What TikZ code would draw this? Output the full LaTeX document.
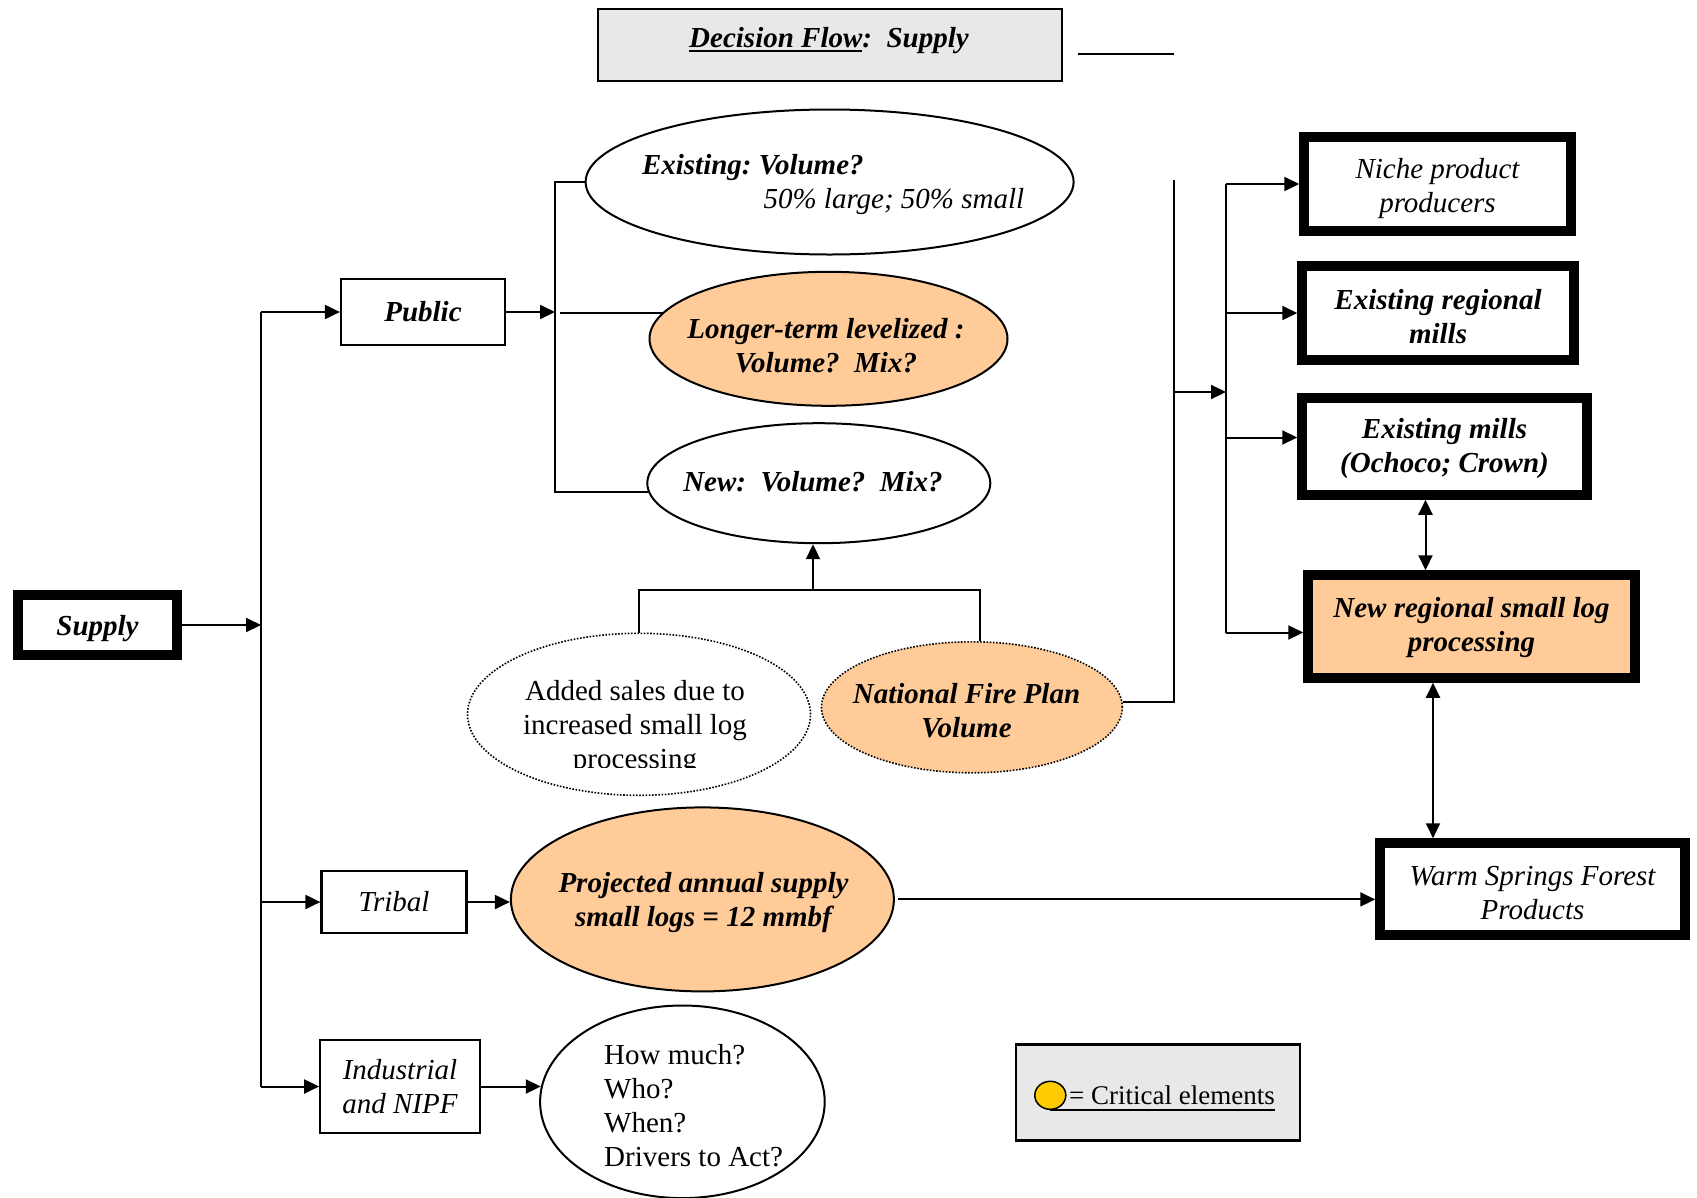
\documentclass[tikz,border=0pt]{standalone}
\usepackage{fontspec}
\setmainfont{Liberation Serif}
\usetikzlibrary{arrows.meta,shapes.geometric,calc}
\definecolor{tanc}{HTML}{FFCC99}
\definecolor{lgray}{HTML}{E8E8E8}
\definecolor{yelc}{HTML}{FFCC00}
\newcommand\myul[1]{\setbox0\hbox{#1}\rlap{\rule[-5pt]{\wd0}{2.5pt}}\box0}
\begin{document}
\frenchspacing
\begin{tikzpicture}[x=1pt,y=-1pt,
  every node/.style={font=\fontsize{29}{34}\selectfont},
  thin box/.style={draw, rectangle, line width=2.2pt, fill=white, inner sep=0pt, align=center},
  heavy box/.style={draw, rectangle, line width=9.5pt, fill=white, inner sep=0pt, align=center},
  oval/.style={draw, ellipse, line width=2pt, inner sep=0pt, fill=white},
  dotoval/.style={draw, ellipse, line width=1.6pt, dash pattern=on 1.6pt off 1.6pt, inner sep=0pt},
  conn/.style={line width=2pt},
  arr/.style={line width=2pt, -{Triangle[length=15pt,width=14pt]}},
  darr/.style={line width=2pt, {Triangle[length=15pt,width=14pt]}-{Triangle[length=15pt,width=14pt]}},
  txtbi/.style={font=\fontsize{29}{34}\selectfont\bfseries\itshape, align=center},
  txtit/.style={font=\fontsize{29}{34}\selectfont\itshape, align=center},
]
\useasboundingbox[fill=white] (0,0) rectangle (1697,1197);

% title
\node[thin box, fill=lgray, minimum width=464pt, minimum height=72pt] (title) at (830,45) {};
\node[txtbi] (titletxt) at (829,40.5) {\myul{Decision Flow}:\ \ Supply};
\coordinate (ln1) at (1078,54);
\coordinate (ln2) at (1174,54);
\draw[conn] (ln1) -- (ln2);

% left boxes
\node[heavy box, minimum width=159pt, minimum height=60pt] (sup) at (97.5,625) {};
\node[txtbi] (suptxt) at ([yshift=-3.3pt]sup.center) {Supply};
\node[thin box, minimum width=164pt, minimum height=66pt] (pub) at (423,312) {};
\node[txtbi] (pubtxt) at (pub.center) {Public};
\node[thin box, minimum width=145pt, minimum height=62pt] (tri) at (394,902) {};
\node[txtit] (tritxt) at (tri.center) {Tribal};
\node[thin box, minimum width=159.5pt, minimum height=93pt] (ind) at (400,1086.5) {};
\node[txtit] (indtxt) at (ind.center) {Industrial\\and NIPF};

% ellipses
\node[oval, minimum width=488pt, minimum height=145pt] (ex) at (829.6,182) {};
\node[txtbi, anchor=west] (ex1) at (638.5,167.8) {Existing: Volume?};
\node[txtit, anchor=west] (ex2) at (760,201.3) {50\% large; 50\% small};

\node[oval, fill=tanc, minimum width=358pt, minimum height=134pt] (lt) at (828.5,338.8) {};
\node[txtbi] (lttxt) at (826,346) {Longer-term levelized :\\Volume?\ \ Mix?};

\node[oval, minimum width=343pt, minimum height=120pt] (nw) at (818.8,483.2) {};
\node[txtbi] (nwtxt) at (813,482) {New:\ \ Volume?\ \ Mix?};

\node[dotoval, minimum width=343pt, minimum height=162pt] (add) at (639,714.3) {};
\begin{scope}
\clip (440,600) rectangle (840,767);
\node[align=center] (addtxt) at (635,727.3) {Added sales due to\\increased small log\\processing};
\end{scope}

\node[dotoval, fill=tanc, minimum width=300.8pt, minimum height=131pt] (nfp) at (971.9,707.3) {};
\node[txtbi] (nfptxt) at (966.5,710.5) {National Fire Plan\\Volume};

\node[oval, fill=tanc, minimum width=383pt, minimum height=184pt] (proj) at (702.4,899.4) {};
\node[txtbi] (projtxt) at (703.5,902.1) {Projected annual supply\\small logs = 12 mmbf};

\node[oval, minimum width=284.6pt, minimum height=192.6pt] (how) at (682.4,1101.8) {};
\node[anchor=west, align=left] (howtxt) at (600.7,1105.6) {How much?\\Who?\\When?\\Drivers to Act?};

% right boxes
\node[heavy box, minimum width=267pt, minimum height=94pt] (niche) at (1437.5,184) {};
\node[txtit] (nichetxt) at ([yshift=-4.3pt]niche.center) {Niche product\\producers};
\node[heavy box, minimum width=272pt, minimum height=94pt] (exr) at (1438,313) {};
\node[txtbi] (exrtxt) at ([yshift=-3.3pt]exr.center) {Existing regional\\mills};
\node[heavy box, minimum width=285pt, minimum height=97pt] (exm) at (1444.5,446.5) {};
\node[txtbi] (exmtxt) at ([yshift=-2.2pt]exm.center) {Existing mills\\(Ochoco; Crown)};
\node[heavy box, fill=tanc, minimum width=327pt, minimum height=103pt] (nr) at (1471.5,626.5) {};
\node[txtbi] (nrtxt) at ([yshift=-0.6pt]nr.center) {New regional small log\\processing};
\node[heavy box, minimum width=305pt, minimum height=92pt] (ws) at (1532.5,889) {};
\node[txtit] (wstxt) at ([yshift=-3.8pt]ws.center) {Warm Springs Forest\\Products};

% legend
\node[thin box, fill=lgray, minimum width=283.5pt, minimum height=96pt] (leg) at (1158,1092.5) {};
\node[anchor=west, inner sep=0pt, font=\fontsize{27}{32}\selectfont] (legtxt) at (1069,1095) {= Critical elements};
\node[draw, ellipse, line width=1.5pt, fill=yelc, minimum width=31pt, minimum height=28pt, inner sep=0pt] (yl) at (1050.3,1095.3) {};
\draw[line width=2pt] (yl.south) -- (yl.south -| legtxt.east);

% trunk
\coordinate (trT) at (261,312);
\coordinate (trB) at (261,1086.5);
\draw[conn] (trT) -- (trB);
\draw[arr] (sup.east) -- (sup.east -| trT);
\draw[arr] (trT) -- (pub.west);
\draw[arr] (tri.west -| trT) -- (tri.west);
\draw[arr] (trB) -- (ind.west);

% public bracket
\coordinate (bk) at (555,0);
\coordinate (bk2) at (560,0);
\draw[arr] (pub.east) -- (pub.east -| bk);
\draw[conn] (ex.west) -- (bk |- ex.west) -- (bk |- nw.183) -- (nw.183);
\draw[conn] (bk2 |- lt.171) -- (lt.171);

% junction under New
\coordinate (jL) at (639,590);
\coordinate (jR) at (979.5,590);
\coordinate (jM) at (813,590);
\draw[conn] (add.north) -- (jL) -- (jR) -- (jR |- nfp.north);
\draw[arr] (jM) -- (jM |- nw.south);

% right distribution
\coordinate (v1) at (1174,180);
\coordinate (v1m) at (1174,392);
\coordinate (v2) at (1226,184);
\coordinate (nrIn) at ([yshift=-6pt]nr.west);
\coordinate (exmIn) at ([yshift=9pt]exm.west);
\draw[conn] (nfp.2) -- (nfp.2 -| v1) -- (v1);
\draw[arr] (v1m) -- (v1m -| v2);
\draw[conn] (v2) -- (v2 |- nrIn);
\draw[arr] (v2) -- (niche.west);
\draw[arr] (v2 |- exr.west) -- (exr.west);
\draw[arr] (v2 |- exmIn) -- (exmIn);
\draw[arr] (v2 |- nrIn) -- (nrIn);

% double arrows
\coordinate (d1) at ($(exm.south)+(-19,0)$);
\draw[darr] (d1) -- (d1 |- nr.north);
\coordinate (d2) at ($(nr.south)+(-38.5,0)$);
\draw[darr] (d2) -- (d2 |- ws.north);

% lower connectors
\draw[arr] ([xshift=3pt]proj.east) -- (proj.east -| ws.west);
\draw[arr] (tri.east) -- (tri.east -| proj.west);
\draw[arr] (ind.east) -- (ind.east -| how.174);
\end{tikzpicture}
\end{document}
